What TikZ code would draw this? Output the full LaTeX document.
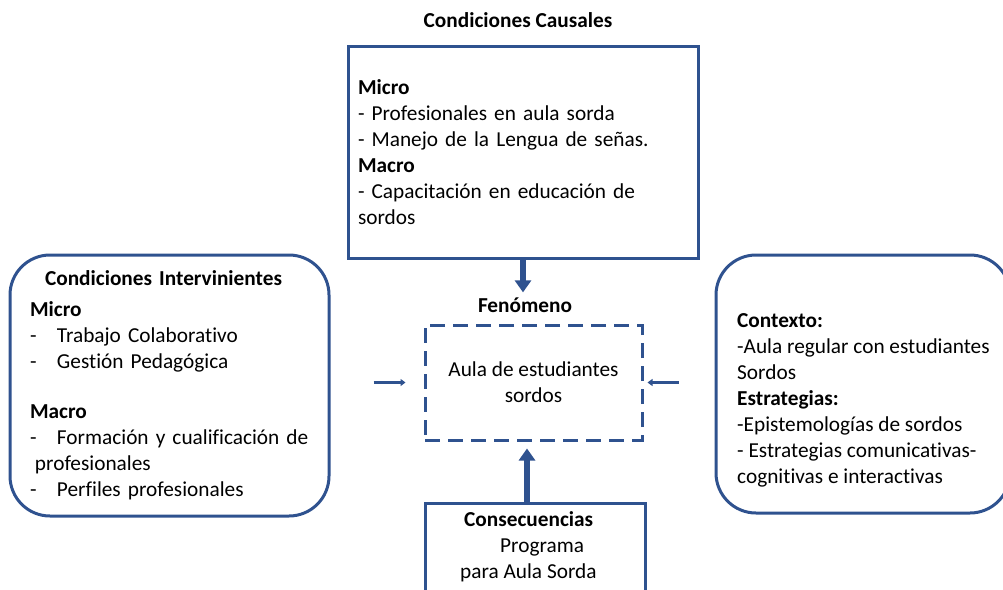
\documentclass[tikz,border=0pt]{standalone}
\usepackage{fontspec}
\setmainfont{Carlito}[Ligatures=NoCommon]
\usetikzlibrary{positioning, arrows.meta}
\definecolor{azul}{HTML}{2F528F}
\tikzset{
every node/.style={font=\fontsize{21.3}{26}\selectfont, inner sep=0pt},
caja/.style={draw=azul, line width=3pt},
redonda/.style={caja, rounded corners=40pt},
rayada/.style={caja, dash pattern=on 15pt off 8pt},
gruesa/.style={draw=azul, line width=6pt, -{Triangle[width=16pt, length=12pt]}},
fina/.style={draw=azul, line width=2.5pt, -{Triangle[width=7pt, length=5pt]}},
}
\newcommand{\guion}{\makebox[27pt][l]{-}}

\begin{document}
\begin{tikzpicture}[x=1pt, y=-1pt]
    \useasboundingbox (0,0) rectangle (1003,589);
    \node[font=\fontsize{21.3}{26}\selectfont\bfseries] (titulo) at (518,20) {Condiciones Causales};
    \node[caja, minimum width=350pt, minimum height=212pt, text width=330pt, align=left] (causales) at (523,152) {
        \textbf{Micro}\\
        - Profesionales en aula sorda\\
        - Manejo de la Lengua de señas.\\
        \textbf{Macro}\\
        - Capacitación en educación de\\
        sordos};
    \node[font=\fontsize{21.3}{26}\selectfont\bfseries] (fenlabel) at (525,305) {Fenómeno};
    \node[rayada, minimum width=217pt, minimum height=115pt, align=center] (fenomeno) at (533.5,382.5) {Aula de estudiantes\\sordos};
    \node[redonda, minimum width=319pt, minimum height=261pt, text width=279pt, align=left] (intervinientes) at (169.5,385.5) {
        \makebox[279pt]{\hspace{-12pt}\textbf{Condiciones Intervinientes}}\\[5pt]
        \textbf{Micro}\\
        \guion Trabajo Colaborativo\\
        \guion Gestión Pedagógica\\[24pt]
        \textbf{Macro}\\
        \guion Formación y cualificación de\\
        \hspace*{5pt}profesionales\\
        \guion Perfiles profesionales};
    \node[redonda, minimum width=294pt, minimum height=258pt] (contexto) at (863,384) {};
    \node[anchor=north west, align=left] (contextotxt) at (737,313) {
        \textbf{Contexto:}\\
        -Aula regular con estudiantes\\
        Sordos\\
        \textbf{Estrategias:}\\
        -Epistemologías de sordos\\
        - Estrategias comunicativas-\\
        cognitivas e interactivas};
    \node[caja, minimum width=220pt, minimum height=140pt] (consec) at (535,573) {};
    \node[anchor=north west, align=left] (consectxt) at (460,511) {
        \hspace*{4pt}\textbf{Consecuencias}\\
        \hspace*{40pt}Programa\\
        para Aula Sorda};
    \draw[gruesa, shorten >=5pt] (causales.south) -- (causales.south |- fenlabel.north);
    \draw[gruesa, shorten >=7pt] ([xshift=-8pt]consec.north) -- ([xshift=-8pt]consec.north |- fenomeno.south);
    \draw[fina, shorten <=43pt, shorten >=18pt] (intervinientes.east |- fenomeno.west) -- (fenomeno.west);
    \draw[fina, shorten <=36pt, shorten >=4pt] (contexto.west |- fenomeno.east) -- (fenomeno.east);
\end{tikzpicture}
\end{document}
